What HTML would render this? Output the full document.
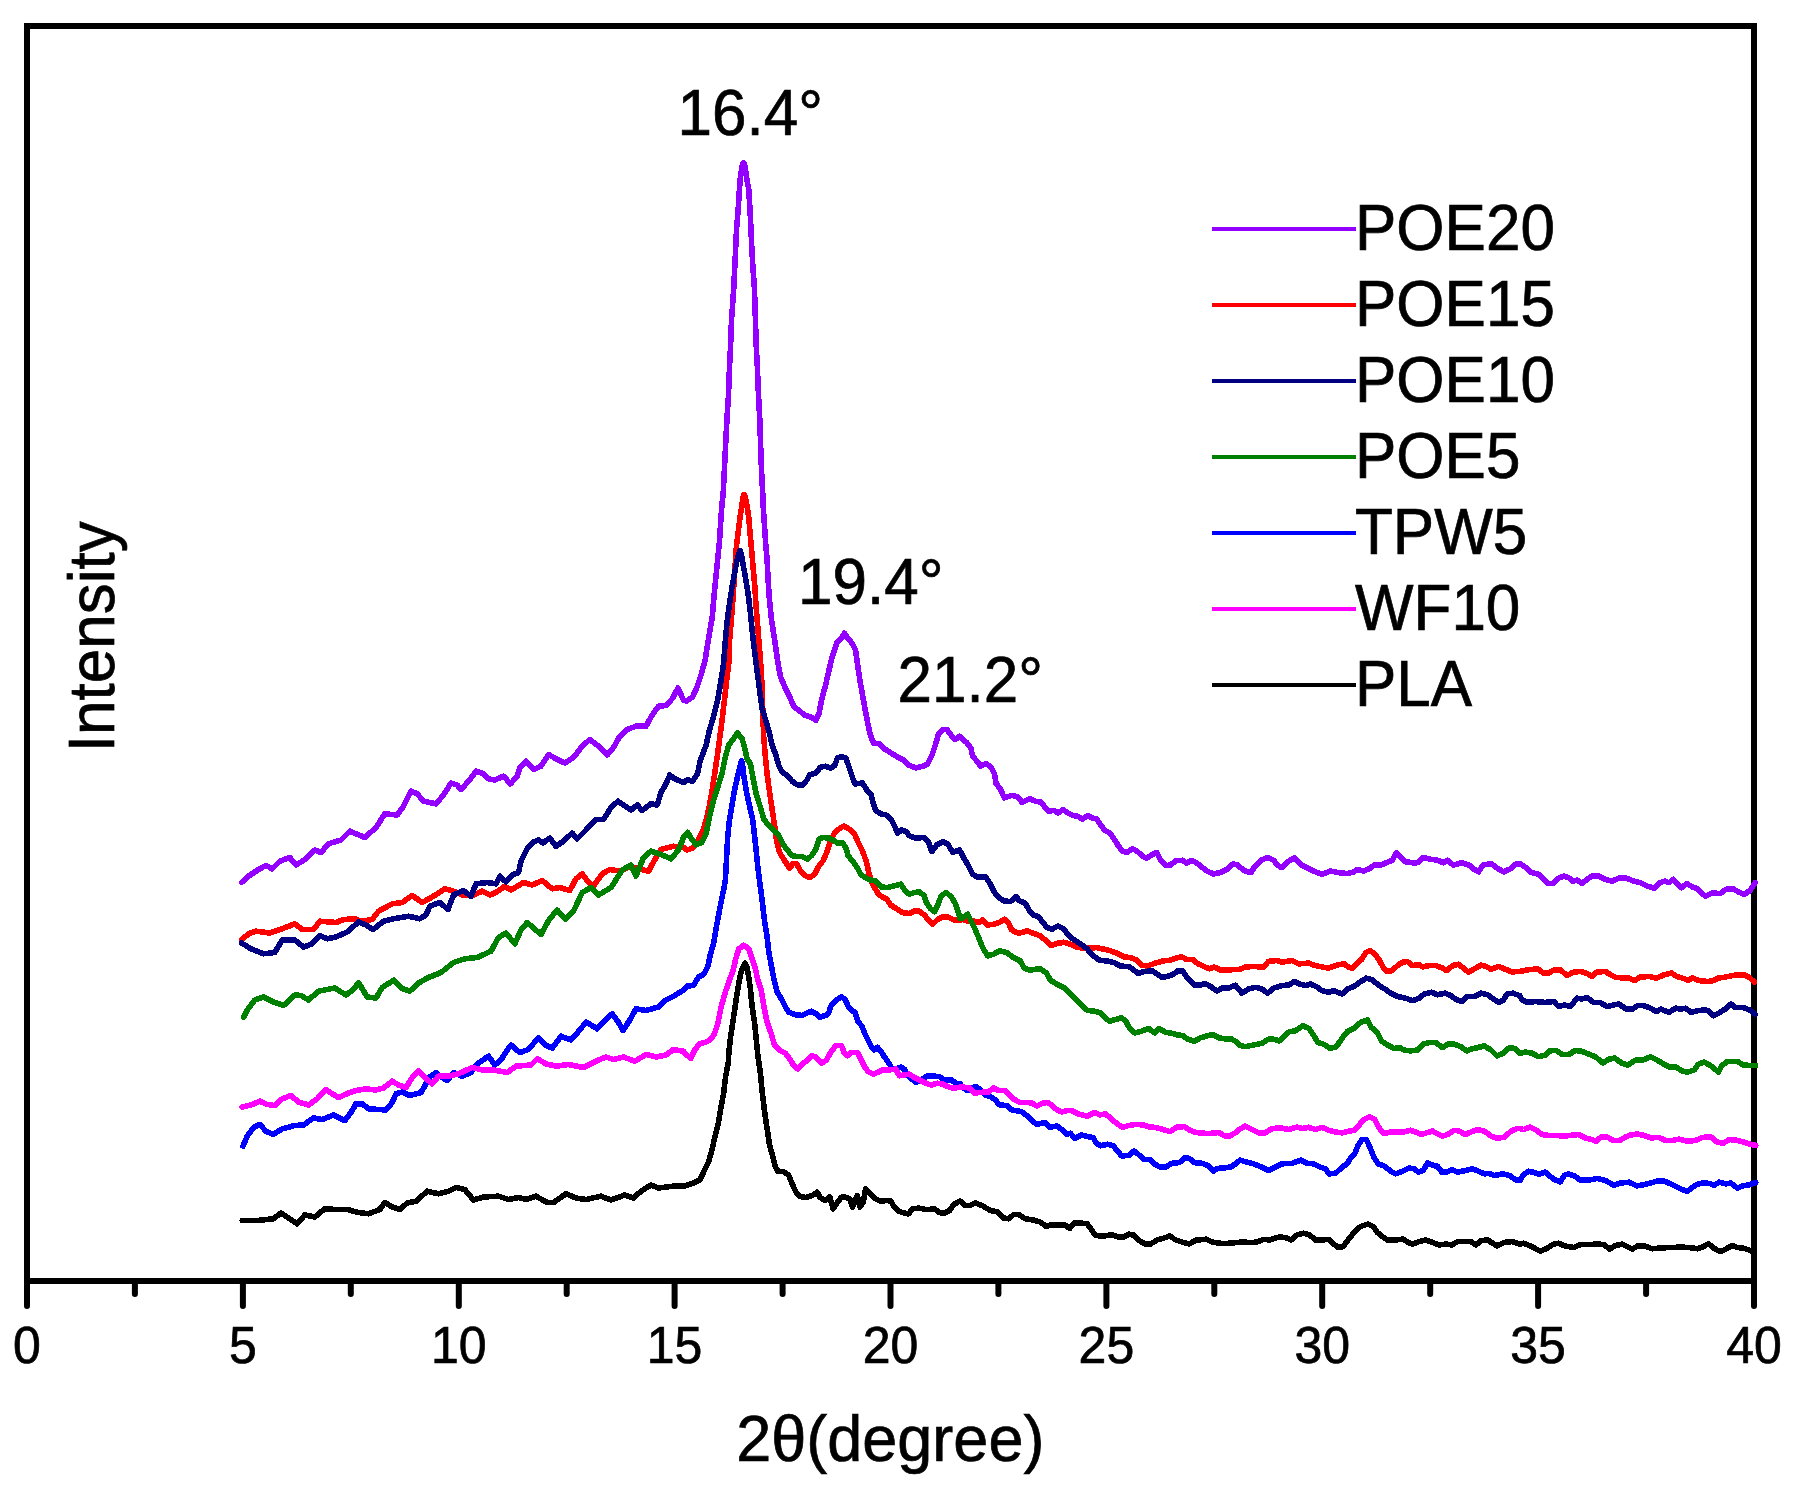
<!DOCTYPE html>
<html lang="en"><head><meta charset="utf-8"><title>XRD patterns</title>
<style>
html,body{margin:0;padding:0;background:#fff;}
body{width:1796px;height:1488px;overflow:hidden;}
svg{display:block;}
text{font-family:"Liberation Sans",sans-serif;fill:#000;stroke:#000;stroke-width:0.7;}
.big{font-size:62px;}
.tick{font-size:50px;text-anchor:middle;}
.c{fill:none;stroke-width:5.6;stroke-linejoin:round;stroke-linecap:round;shape-rendering:crispEdges;}
.ax{stroke:#000;stroke-width:6;fill:none;}
</style></head><body>
<svg width="1796" height="1488" viewBox="0 0 1796 1488">
<rect width="1796" height="1488" fill="#fff"/>
<g class="ax" stroke-linecap="butt">
<path d="M27 1284 V26 M24 26 H1757 M1754 26 V1284 M24 1281 H1757"/>
<path stroke-linecap="round" d="M27.0 1281 V1306 M242.9 1281 V1306 M458.8 1281 V1306 M674.6 1281 V1306 M890.5 1281 V1306 M1106.4 1281 V1306 M1322.2 1281 V1306 M1538.1 1281 V1306 M1754.0 1281 V1306"/>
<path stroke-linecap="round" d="M134.9 1281 V1294 M350.8 1281 V1294 M566.7 1281 V1294 M782.6 1281 V1294 M998.4 1281 V1294 M1214.3 1281 V1294 M1430.2 1281 V1294 M1646.1 1281 V1294"/>
</g>
<g class="tick">
<text transform="translate(27.0 1363) scale(1 1.045)">0</text>
<text transform="translate(242.9 1363) scale(1 1.045)">5</text>
<text transform="translate(458.8 1363) scale(1 1.045)">10</text>
<text transform="translate(674.6 1363) scale(1 1.045)">15</text>
<text transform="translate(890.5 1363) scale(1 1.045)">20</text>
<text transform="translate(1106.4 1363) scale(1 1.045)">25</text>
<text transform="translate(1322.2 1363) scale(1 1.045)">30</text>
<text transform="translate(1538.1 1363) scale(1 1.045)">35</text>
<text transform="translate(1754.0 1363) scale(1 1.045)">40</text>
</g>
<g class="c">
<polyline stroke="#000000" points="242.2,1220.5 257.2,1220.5 273.5,1218.8 281,1213 289.8,1218.8 297.2,1223.8 304.8,1215 314.8,1217 324.8,1208.8 336,1209.5 347.2,1209.5 358.5,1212.5 368.5,1213.8 379.8,1209.5 384.8,1202.5 392.2,1207 399.8,1209.5 407.2,1203 416,1201.2 427.2,1191.2 438.5,1193.8 448.5,1191.2 456,1187.5 464.8,1189.5 473.5,1200 483.5,1197 498.5,1196.2 508.5,1199.5 518.5,1197.5 526,1199.5 536,1196.2 547.2,1202.5 553.5,1202.5 566,1193.8 576,1198 586,1199.5 601,1196.2 611,1200 624.8,1195 633.5,1198 641,1191.2 651,1185 658.5,1188 673.5,1186.2 683.5,1186.2 686.8,1185.2 693.5,1183 700.2,1179.6 704.3,1170.4 708.5,1162.1 711.9,1150.4 715.2,1135.3 718.6,1121.9 721.1,1106.8 723.6,1093.5 725.6,1076.7 727.8,1065 728.6,1060 728.6,1055.7 730.3,1039 732.8,1022.2 735.3,1005.5 737.8,988.8 740,977 742.2,968.3 745,963.2 747,967.3 748.7,977 750.4,988.8 752,1005.5 754.5,1022.2 756.2,1039 757.9,1055.7 760.4,1073.4 762.4,1093.5 764.6,1111.9 767.1,1128.6 769.6,1145.3 772.9,1157 775.4,1167.1 778,1171.3 783.8,1171.8 788.8,1175.4 792.2,1183.8 795.5,1191.3 799.7,1196.4 805.6,1197.5 812.3,1195.5 817.3,1192.2 819.8,1197.2 824.8,1200.5 829.8,1196.9 833.2,1208.9 837.4,1202.2 841.5,1197.2 845.7,1197.2 849.9,1198.9 852.4,1207.2 857.4,1195.5 859.9,1207.2 863.3,1202.2 865.5,1188.8 868.3,1192.2 871.7,1195.5 875.8,1198.9 880.9,1201.4 885.9,1200.5 890.9,1200.9 894.2,1207.2 899.3,1211.4 904.3,1213.1 908.5,1213.9 912.6,1208.9 919.3,1208.1 926,1209.7 934.4,1208.9 939.4,1212.6 944.4,1213.1 949.5,1210.6 953.6,1204.7 960,1200.9 965.1,1205.4 970.1,1205.4 975.1,1202.9 981.8,1205.4 990.2,1210.4 997.7,1212.1 1003.6,1218 1008.6,1218.8 1013.6,1214.6 1018.6,1214.6 1025.3,1218.8 1033.7,1220.1 1040.4,1222.1 1046.2,1226.3 1052.1,1224.7 1058.8,1224.7 1064.7,1224.7 1069.7,1228.5 1073.9,1223 1080.5,1223 1087.2,1223.8 1091.4,1229.7 1094.8,1234.7 1100.6,1236.4 1107.3,1235.5 1112.3,1234.7 1119,1237.2 1124,1236.9 1129.1,1234.2 1134.1,1235.2 1139.1,1240.5 1145,1243.9 1150.8,1243.9 1157.5,1239.7 1164.2,1238 1170.1,1235.9 1175.1,1239.7 1182.6,1242.2 1189.3,1243.9 1196,1240.2 1206,1239.2 1212.7,1242.2 1222.8,1243.6 1231.1,1243.1 1240,1242.2 1241.8,1241.6 1250.1,1242.7 1256.8,1242.1 1263.5,1239.4 1270.2,1239.9 1278.6,1237.1 1285.3,1237.4 1291.1,1239.9 1297,1234.9 1303.7,1233.2 1309.5,1234.9 1315.4,1239.9 1322.1,1239.9 1328.8,1239.4 1333.8,1244.1 1338,1247.4 1343,1246.6 1348.8,1239.1 1353.9,1232.4 1360.5,1226.5 1368.1,1224 1373.1,1226.5 1377.3,1232.4 1382.3,1236.6 1387.3,1239.9 1395.7,1239.9 1403.2,1239.1 1408.2,1242.4 1412.4,1244.1 1419.1,1241.6 1425.8,1239.9 1432.5,1242.4 1439.2,1244.9 1445.9,1244.1 1451.7,1244.9 1457.6,1241.6 1464.3,1241.6 1471,1241.6 1476,1244.9 1481,1240.7 1487.7,1239.9 1492.7,1243.3 1496.9,1245.8 1504.4,1242.4 1512,1241.6 1520,1244.1 1523.5,1243.3 1531.8,1246.6 1540.2,1251.2 1546.9,1248.3 1553.6,1244.1 1558.6,1243.3 1565.3,1246.1 1573.7,1247.5 1580.4,1244.5 1588.7,1244.5 1597.1,1244.1 1603.8,1244.5 1609.6,1249.1 1615.5,1245.5 1622.2,1244.1 1627.2,1246.6 1632.2,1249.1 1638.1,1245.8 1643.9,1245.8 1652.3,1248.8 1662.3,1247.8 1672.4,1247.5 1680.7,1247.1 1689.1,1247.5 1697.5,1248.8 1703.3,1246.6 1708.3,1243.8 1714.2,1248.3 1720.1,1251.7 1725.9,1249.1 1731.8,1245.5 1737.6,1247.5 1744.3,1248.3 1751,1250.8"/>
<polyline stroke="#FF0000" points="241.5,940 248.5,933.8 256,931.2 269.8,933 282.2,928.8 294.8,923.8 302.2,929.5 313.5,929.5 319.8,921.2 336,922.5 343.5,919.5 354.8,918.8 361,921.2 372.2,919.5 378.5,911.2 392.2,903.8 402.2,902.5 412.2,895.5 422.2,902.5 433.5,896.2 444.8,888.8 453.5,891.2 462.2,895 473.5,895 482.2,891.2 489.8,895 496,892.5 504.8,886.2 511,890 523.5,882.5 532.2,885 542.2,880.5 552.2,888.8 559.8,887.5 569.8,890.5 576,878.8 582.2,873.8 588.5,882.5 593.5,886.2 602.2,873.8 609.8,869.5 621,871.2 629.8,866.2 638.5,868.8 648.5,871.2 656,857.5 661,849.5 673.5,846.2 683.5,847.5 686.8,849.9 692.6,848.3 697.6,840.7 702.7,831.5 706,820.7 709.4,805.6 711.9,792.2 714.4,775.5 716.9,758.8 719.4,740.4 721.9,721.9 724.4,700.2 726.9,678.4 729.4,658.4 729.4,642.5 731,623.8 732.5,605 733.8,586.2 735,567.5 736.2,548.8 738.1,532.5 740,517.5 741.9,505 743,497.5 744,494.4 745.4,497.5 746.9,505 748.8,517.5 750,532.5 751.5,548.8 753.1,567.5 754.8,586.2 756,605 757.5,623.8 759,642.5 761.2,670.1 762.4,691.8 762.9,716.9 763.7,737 765.4,757.1 767.1,773.8 769.6,792.2 772.1,809 774.6,825.7 776.3,839.1 779.6,852.5 784.7,860.8 789.7,868.3 793,863.3 796.4,863.3 800.5,870.9 805.6,875.9 809.7,877.6 814.8,874.2 819,865.8 823.1,860.8 827.3,850.8 830.7,840.7 834.8,832.4 839.9,828.2 844,826 849.1,829 854.1,833.2 858.3,842.4 862.5,850.8 866.6,862.5 869.1,874.2 873.3,885.9 879.2,895.1 886.7,899.2 890.9,905.1 895.9,908.4 902.6,912.6 909.3,913.5 914.3,911 919.3,911 924.4,915.1 929.4,921 932.7,924.3 937.7,919.3 942.8,916.8 947.8,916.8 954.5,920.2 960,920.2 961.8,919.2 966.8,920.9 973.5,920.9 978.5,922.5 982.7,920 987.7,925 993.5,924.2 999.4,922.5 1004.4,919.2 1008.6,923.4 1011.9,930.1 1018.6,933.4 1027,930.9 1033.7,933.4 1040.4,935.9 1046.2,940.9 1051.3,945.6 1057.1,943.4 1063.8,942.3 1070.5,944.3 1077.2,947.3 1083.9,948.1 1090.6,948.1 1096.4,947.6 1104,949.2 1110.7,950.9 1117.4,953.4 1124,956.8 1130.7,957.6 1136.6,960.1 1141.6,965.1 1147.5,966 1154.2,963.5 1162.5,961 1170.9,960.1 1177.6,957.6 1181.8,956.8 1186,959.3 1192.6,959.3 1197.7,963.5 1204.4,966.8 1209.4,968.8 1214.4,967.1 1221.1,970.2 1227.8,970.2 1234.5,969.3 1240,969.3 1245.1,967.2 1253.5,966.4 1263.5,967.2 1268.5,961.4 1276.9,960.5 1281.9,962.2 1291.9,960.5 1298.6,963.9 1308.7,963.1 1315.4,965.6 1322.1,966.9 1327.9,968.1 1335.4,965.6 1343.8,963.6 1348.8,967.2 1352.2,968.1 1356.4,963.9 1361.4,959.7 1365.6,953 1369.7,950.5 1373.9,953 1379,959.7 1383.1,967.2 1387.3,971.4 1392.3,970.6 1397.4,965.6 1402.4,962.2 1407.4,961.4 1412.4,965.6 1419.1,964.7 1422.5,966.9 1429.1,965.6 1435.8,965.6 1442.5,968.1 1446.7,970.6 1452.6,965.6 1458.4,964.2 1463.4,968.1 1468.5,972.3 1474.3,968.9 1481,965.2 1486,966.4 1491.1,969.2 1498.6,966.4 1504.4,968.9 1512,971.9 1520,971.4 1528.5,969.7 1537.7,968.9 1543.5,973.1 1548.6,973.1 1554.4,969.7 1560.3,969.7 1567,975.6 1572.8,972.3 1580.4,971.4 1586.2,973.1 1592.1,976.4 1596.2,972.3 1605.4,971.4 1610.5,974.8 1615.5,977.3 1623.9,978.1 1628.9,978.1 1634.7,980.6 1639.7,977.3 1649,976.4 1656.5,978.1 1664,974.8 1671.5,973.1 1676.6,976.4 1682.4,978.1 1688.3,980.3 1692.5,978.1 1699.1,980.6 1707.5,981.5 1713.4,980.6 1718.4,978.1 1724.2,977.3 1730.9,975.9 1737.6,974.8 1744.3,974.8 1749.3,977.3 1754.4,982.3"/>
<polyline stroke="#0000FF" points="243,1146.2 247.2,1136.2 253.5,1127.5 259.8,1124.5 266,1131.2 273,1134.5 282.2,1128.8 294.8,1125.5 303.5,1125 313.5,1118 322.2,1119.5 333.5,1115 344.8,1120.5 351,1112.5 356,1103.8 362.2,1103.8 368.5,1108.8 378.5,1109.5 386,1110 392.2,1102.5 396,1093.8 402.2,1092 409.8,1095.5 421,1092.5 426,1083.8 429.8,1077 436,1072.5 442.2,1077.5 447.2,1080.5 453.5,1072.5 462.2,1076.2 471,1072.5 477.2,1063.8 488.5,1056.2 494.8,1065 501,1060 507.2,1050 511,1045 519.8,1052.5 528.5,1049.5 538.5,1037.5 546,1045.5 552.2,1048 561,1036.2 571,1040 579.8,1030 586,1022 597.2,1028.8 606,1019.5 612.2,1013.8 618.5,1022.5 623,1030.5 629.8,1020 636,1008.8 646,1010.5 658.5,1007 664.8,1000.5 674.8,995.5 683.5,990 686.8,986.2 693.5,985.4 698.5,977 703.5,974.5 707.7,967 710.2,955.3 713.5,943.6 716.1,928.5 718.6,915.1 721.1,901.8 723.6,890 725.3,880 726.1,867.5 726.9,850.8 727.8,835.7 729.4,820.7 731.9,805.6 734.5,790.5 737.8,775.5 740,766.3 741.5,760.6 742.8,766.3 743.7,775.5 746.2,790.5 749.5,805.6 752.9,820.7 754.5,835.7 756.2,850.8 757.9,867.5 761.2,893.4 762.9,906.8 764.6,921.8 767.1,936.9 768.8,951.9 771.3,965.3 773.8,978.7 777.1,992.1 781.3,998.8 785.5,1007.2 788.8,1012.2 795.5,1014.7 802.2,1015.5 807.2,1013 811.4,1011.3 816.4,1013.9 819.8,1017.2 825.6,1015.5 829,1012.2 830.7,1006.3 834.8,1002.1 838.2,998.8 841.5,997.1 844.9,999.1 848.2,1006.3 851.6,1010.5 854.9,1012.2 858.3,1022.2 861.6,1025.6 865,1033.9 868.3,1040.6 871.7,1047.3 874.2,1049.8 877.5,1047.3 880.9,1051.5 884.2,1056.5 888.4,1062.4 891.7,1068.2 895.9,1069.1 900.9,1067.1 905.1,1069.9 907.6,1075.8 911,1078.3 916,1082.5 921,1079.9 927.7,1075.8 933.6,1076.1 939.4,1076.6 944.4,1079.9 951.1,1079.9 956.2,1083.3 960,1083.3 961.8,1087.3 967.6,1090.6 971,1088.1 976,1086.4 980.2,1089.8 985.2,1094.8 990.2,1096.5 995.2,1099.8 999.4,1104.8 1006.9,1105.7 1011.9,1109.9 1021.1,1111.5 1027,1115.7 1032,1120.7 1037,1124.4 1045.4,1122.4 1049.6,1127.1 1057.1,1126.1 1062.1,1129.9 1066.3,1134.1 1070.5,1133.3 1074.7,1138.3 1081.4,1135 1087.2,1136.6 1093.1,1137.5 1096.4,1143.3 1100.6,1145.8 1107.3,1144.2 1113.2,1145.8 1117.4,1150.9 1121.5,1155.9 1129.1,1155.5 1134.1,1150.9 1139.1,1155 1143.3,1159.2 1150,1159.6 1155,1164.2 1159.2,1166.8 1165.9,1166.8 1171.7,1163.4 1179.3,1162.6 1185.1,1157.6 1189.3,1158.4 1194.3,1162.6 1202.7,1163.4 1208.5,1165.9 1213.6,1170.9 1217.7,1168.4 1224.4,1167.9 1231.1,1166.8 1236.2,1163.4 1240,1160.1 1246.8,1162.1 1253.5,1163.8 1261.8,1167.1 1268.5,1170.5 1275.2,1167.1 1281.9,1163.8 1291.9,1163.4 1301.1,1160.1 1307,1163.4 1313.7,1163.8 1320.4,1167.1 1325.4,1168.8 1328.8,1173.8 1335.4,1173.5 1342.1,1167.1 1347.2,1163.8 1350.5,1157.9 1354.7,1153.7 1358,1145.4 1362.2,1139.5 1366.4,1139.5 1369.7,1147 1373.9,1157.1 1378.1,1163.8 1384.8,1166.3 1390.7,1171.3 1395.7,1173.8 1402.4,1171.3 1409.1,1168 1414.1,1168.8 1418.3,1172.1 1423.3,1170.5 1427.5,1162.9 1433.3,1165.4 1437.5,1166.3 1441.7,1172.1 1446.7,1172.1 1451.7,1169.6 1457.6,1172.1 1464.3,1170.8 1472.6,1168.8 1478.5,1171.3 1484.4,1173.8 1489.4,1173.5 1494.4,1175.5 1502.8,1173.8 1509.5,1175.5 1515.3,1179.7 1520,1180.5 1523.5,1174.7 1528.5,1171.3 1533.5,1172.2 1538.5,1174.2 1545.2,1172.2 1550.2,1176.4 1554.4,1179.7 1560.3,1181.9 1564.5,1175.2 1568.6,1173.9 1575.3,1176.4 1580.4,1180.2 1588.7,1180.2 1597.1,1178.5 1605.4,1180.5 1613.8,1185.2 1620.5,1183.1 1628.9,1182.2 1637.2,1185.9 1643.9,1184.7 1650.6,1183.1 1657.3,1180.9 1664,1180.9 1670.7,1183.9 1677.4,1187.2 1682.4,1189.7 1687.4,1191.4 1692.5,1187.2 1697.5,1184.2 1704.2,1182.6 1710.9,1183.9 1714.2,1185.2 1719.2,1182.2 1725.9,1183.9 1730.9,1183.1 1737.6,1188.1 1742.6,1185.9 1749.3,1184.7 1755.7,1182.6"/>
<polyline stroke="#FF00FF" points="242.2,1107 251,1105 259.8,1101.2 267.2,1104.5 274.8,1105.5 282.2,1098.8 291,1095.5 298.5,1102 308.5,1105 317.2,1098.8 326,1089.5 332.2,1093.8 338.5,1097.5 348.5,1093 356,1090.5 366,1088.8 376,1090 383.5,1088 392.2,1081.2 398.5,1085 406,1087.5 412.2,1077.5 418.5,1071.2 424.8,1077.5 432.2,1083.8 438.5,1076.2 448.5,1076.2 458.5,1073.8 472.2,1067.5 482.2,1070 493.5,1070 507.2,1072.5 516,1066.2 531,1065 537.2,1058.8 546,1063.8 556,1066.2 568.5,1064.5 583.5,1067.5 598.5,1060 606,1057 613.5,1059.5 623.5,1057 634.8,1061.2 646,1054.5 656,1057 666,1055 673.5,1049.5 683.5,1051.2 685.1,1054 691,1058.2 694.3,1050.7 699.3,1044 705.2,1042.3 710.2,1039.8 714.4,1033.9 717.7,1023.9 721.1,1007.2 725.3,992.1 729.4,980.4 733.1,970.4 735.8,958.6 739,948.6 743.7,945.3 748.7,948.6 752,958.6 755.4,968.7 757.9,980.4 761.2,990.4 763.7,1005.5 767.1,1022.2 771.3,1033.9 774.6,1045.6 780.5,1050.7 785.5,1053.2 789.7,1059 793.9,1065.7 798,1069.1 802.2,1064 807.2,1060.7 811.4,1055.7 816.4,1057.4 821.5,1063.2 826.5,1059.9 830.7,1052.3 835.7,1045.6 841.5,1045.6 844,1052.3 847.4,1055.7 851.6,1052.3 857.4,1052.3 860.8,1059 865,1067.4 868.3,1071.6 873.3,1074.1 877.5,1072.4 882.5,1069.9 889.2,1069.9 895.9,1069.1 899.3,1075.8 904.3,1074.9 909.3,1074.1 914.3,1077.4 921,1080.8 926,1083.3 931.1,1085 937.7,1083.3 942.8,1084.1 947.8,1086.6 952.8,1088.3 960,1087.1 965.1,1087.3 970.1,1088.1 974.3,1093.1 981.8,1092.3 988.5,1092 993.5,1088.1 998.6,1090.6 1004.4,1090.3 1008.6,1094 1013.6,1099 1019.5,1102.3 1027,1102.3 1032,1103.2 1037,1106 1042.9,1103.2 1047.9,1102.3 1052.1,1105.7 1057.1,1109.9 1062.1,1112 1067.2,1110.4 1072.2,1110.7 1078,1114 1087.2,1116.1 1094.8,1112.4 1099.8,1114.9 1105.6,1114 1110.7,1118.2 1116.5,1123.3 1122.4,1127.4 1129.1,1125.4 1135.8,1124.4 1143.3,1124.9 1149.1,1127.1 1155.8,1127.4 1164.2,1129.9 1170.1,1131.6 1176.8,1127.1 1184.3,1126.6 1189.3,1129.9 1196,1132.5 1204.4,1133.3 1211.1,1133.3 1218.6,1132.5 1224.4,1135.8 1229.5,1136.1 1234.5,1133.3 1240,1129.1 1245.1,1126.1 1251.8,1129.5 1258.5,1132.8 1265.2,1132.8 1271.9,1128.6 1280.2,1127.8 1288.6,1129.5 1297,1127 1302,1128.6 1308.7,1127.3 1315.4,1129.5 1322.1,1127.3 1328.8,1130.3 1335.4,1132 1342.1,1132.8 1348.8,1131.1 1353.9,1130.3 1358.9,1125.3 1363.9,1119.4 1369.7,1116.9 1374.8,1119.4 1379,1127.8 1384,1133.7 1390.7,1132 1397.4,1132 1404,1132 1410.7,1130.3 1415.8,1132 1421.6,1134.5 1426.6,1132.8 1432.5,1131.1 1437.5,1133.7 1442.5,1136.2 1447.6,1134.5 1454.2,1130.3 1459.3,1131.1 1465.1,1134.5 1471,1132 1477.7,1129.5 1484.4,1131.1 1491.1,1136.2 1497.7,1138.3 1504.4,1137 1511.1,1131.1 1517,1128.6 1520,1128.6 1523.5,1129.5 1530.2,1127 1535.2,1129.5 1541.9,1134.5 1548.6,1135.4 1556.9,1135.4 1563.6,1136.2 1570.3,1135.4 1578.7,1134.5 1585.4,1137.9 1592.1,1139.6 1596.2,1141.2 1601.3,1137 1607.1,1137 1613,1140.4 1619.7,1140.4 1625.5,1137 1630.5,1135 1637.2,1134 1643.9,1135.4 1650.6,1137.9 1659,1137.4 1665.7,1140.7 1672.4,1140.4 1679.1,1139.1 1687.4,1141.2 1695.8,1140.4 1702.5,1137.4 1710.9,1137 1716.7,1141.7 1722.6,1143.4 1729.3,1139.6 1736,1140.1 1742.6,1141.7 1749.3,1144.1 1755.7,1145.4"/>
<polyline stroke="#008000" points="243.5,1017.5 247.2,1010 254.8,1000 263.5,997 273.5,1002 283.5,1005.5 294.8,995 301,995.5 308.5,1000 318.5,991.2 334.8,988 346,995 353.5,989.5 358.5,982.5 367.2,997 376,998 382.2,987.5 394,980 401,988 409.8,991.2 418.5,983 428.5,977.5 441,972.5 453.5,962.5 464.8,958.8 477.2,957.5 491,951.2 498.5,937.5 506,933 514.8,943.8 521,930 527.2,922.5 541,934.5 548.5,920.5 557.2,910 565.5,919.5 573.5,911.2 582.2,892.5 591,887.5 598.5,895 611,887.5 622.2,870 631,865 636,876.2 643.5,857.5 651,851.2 661,854.5 671,858.8 678.5,850 683.5,837.5 687.6,832.4 691.8,839.1 696,844.9 701.8,842.4 706,834 709.4,817.3 713.5,800.6 717.7,787.2 721.9,773.8 725.3,757.1 728.6,745.4 733.6,738.7 737.3,732.8 742,738.7 744.5,747 747,758.8 750.4,763.8 752.9,777.2 756.2,793.9 760.4,807.3 763.7,819 768.8,825.7 773.8,829.9 778.8,835.7 783,844.1 787.2,849.9 792.2,855.8 797.2,856.6 802.2,856.6 807.2,859.1 811.4,855.8 815.6,849.9 819,839.1 823.1,837.4 829,838.2 834,840.7 838.2,843.3 842.4,842.4 845.7,847.4 848.2,855.8 852.4,860.8 856.6,866.7 860.8,874.2 865,877.6 870,880.1 875.8,880.9 880.9,886.8 887.6,887.6 894.2,885.9 900.9,884.2 905.1,890.9 909.3,894.3 914.3,892.6 919.3,891.8 924.4,896 926,901.8 930.2,908.4 934.4,911.8 937.7,905.1 941.1,895.9 946.1,892.5 951.1,896.7 955.3,903.4 958.7,913.5 960,918.5 961.8,918.3 967.6,914.2 971,920.9 975.1,929.2 979.3,939.3 982.7,947.6 987.7,955.9 993.5,954.3 999.4,950.9 1006.9,952.6 1013.6,957.6 1020.3,961 1024.5,968.5 1030.4,970.2 1039.6,968.5 1046.2,972.7 1050.4,980.2 1057.1,984.4 1063.8,987.7 1070.5,993.6 1075.5,999.4 1081.4,1005.3 1087.2,1010.3 1093.9,1011.1 1100.6,1012.8 1104.8,1017.8 1109.8,1021.2 1115.7,1019.5 1121.5,1017.8 1125.7,1021.2 1129.9,1028.7 1134.9,1032.9 1141.6,1031.2 1148.3,1028.4 1155,1032.9 1159.2,1028.4 1165,1032.1 1172.6,1033.4 1177.6,1035.1 1182.6,1035.4 1187.6,1039.1 1194.3,1041.3 1200.2,1037.9 1206,1036.2 1212.7,1034.6 1219.4,1037.9 1226.1,1039.1 1231.1,1038.8 1236.2,1041.8 1240,1045.4 1245.1,1046.7 1253.5,1045 1261.8,1043.4 1268.5,1039.2 1273.5,1039.2 1279.4,1040.9 1285.3,1035 1289.4,1031.7 1295.3,1030.8 1302.8,1025.8 1308.7,1028.3 1312.9,1034.2 1317.9,1042.5 1323.7,1044.2 1330.4,1048.4 1336.3,1046.7 1342.1,1038.3 1347.2,1031.7 1353.9,1028.3 1360.5,1022.5 1367.2,1019.9 1371.4,1027.5 1377.3,1032.5 1381.5,1040.9 1387.3,1045 1394,1048.4 1399.9,1047.6 1404,1050.1 1410.7,1050.9 1417.4,1050.1 1423.3,1044.2 1429.1,1042.5 1435.8,1042.5 1442.5,1047.6 1447.6,1044.2 1454.2,1044.2 1460.9,1046.7 1466.8,1050.9 1471,1049.2 1477.7,1047.6 1484.4,1045.9 1491.1,1050.1 1496.9,1055.9 1502.8,1053.4 1509.5,1047.6 1514.5,1048.4 1520,1053.4 1525.1,1052 1531.8,1053.1 1538.5,1056.7 1545.2,1055.1 1549.4,1050.9 1556.1,1050.4 1561.9,1054.2 1568.6,1054.7 1575.3,1050.4 1582,1051.4 1588.7,1054.2 1595.4,1056.7 1602.9,1063.1 1608.8,1059.2 1614.7,1058.1 1622.2,1063.4 1628,1065.1 1635.6,1060.1 1643.9,1059.7 1650.6,1056.7 1657.3,1060.1 1664,1064.3 1669,1066.8 1675.7,1067.1 1682.4,1071 1687.4,1072.1 1694.1,1070.1 1698.3,1064.3 1704.2,1062.1 1709.2,1064.8 1714.2,1068.4 1718.4,1072.1 1721.7,1065.9 1726.8,1061.8 1732.6,1061.4 1738.5,1061.8 1742.6,1064.8 1749.3,1065.4 1755.7,1065.4"/>
<polyline stroke="#000080" points="241.5,943 251,948.8 263.5,953.8 274.8,952.5 282.2,940 294.8,940 303.5,947 312.2,943.8 319.8,935.5 327.2,938.8 336,937 347.2,932 358.5,922 366,925 373,929.5 383.5,921.2 393.5,918.8 408.5,916.2 419.8,918.8 426,915 429.8,906.2 439.8,902.5 448,909.5 453.5,895 463.5,890.5 471,896.2 476,883.8 487.2,882.5 496,883.8 499.8,876.2 506,882 512.2,875 518.5,872.5 521,861.2 527.2,848.8 533.5,842 538.5,840 543,843 549.8,838 556,846.2 563.5,841.2 572.2,833 577.2,838.8 586,830 596,819.5 603.5,819.5 611,807.5 618,801.2 623.5,805 631,810 637.2,805 642.2,810.5 651,803.8 657.2,805 661,792.5 666,783.8 669.8,775 674.8,778.8 683.5,782.5 687.6,779.7 692.6,781.3 697.6,773.8 700.2,760.4 703.5,752.1 706,745.4 709.4,730.3 713.5,716.9 717.7,700.2 721.1,680.1 723.6,663.4 725.2,642.5 726.9,623.8 728.5,611.2 730.2,598.8 732.2,586.2 734.4,573.8 736.9,561.2 738.8,553.8 740,550.6 741.2,553.8 742.5,561.2 744.8,573.8 746.9,586.2 748.8,598.8 750.2,611.2 751.5,623.8 753.5,642.5 757,670.1 759.6,690.2 762.1,708.6 766.2,721.9 769.6,733.7 772.1,745.4 775.4,753.7 778.8,765.4 782.1,772.1 787.2,775.5 792.2,781.3 797.2,784.7 802.2,785.5 807.2,779.7 809.7,774.7 815.6,773 820.6,767.1 825.6,766.3 830.7,768 834.8,765.4 837.4,757.9 841.5,756.7 845.7,757.9 849.1,767.1 852.4,777.2 854.9,783.9 862.5,783 866.6,789.7 870.8,793.9 873.3,803.9 875.8,810.6 880.9,814 885.9,814.8 890.9,819 895.1,827.4 897.6,833.2 901.8,829.9 906,831.5 909.3,835.7 916,838.2 923.5,837.4 928.5,842.4 931.9,851.6 936.9,844.9 942.8,841.6 947.8,844.1 952.8,852.5 959.5,849.9 964.3,859 968.4,865.6 972.6,874 977.6,877.4 985.2,876.5 989.4,882.4 993.5,890.7 997.7,896.6 1003.6,900.8 1010.3,901.6 1016.1,896.6 1019.5,900.8 1025.3,903.3 1029.5,910.8 1033.7,915 1038.7,916.7 1042.9,922.5 1047.1,927.6 1052.1,929.2 1058,925.9 1063,928.4 1067.2,933.4 1072.2,938.4 1077.2,941.8 1082.2,945.1 1087.2,949 1091.4,954.3 1099,960.1 1107.3,961 1114,962.6 1120.7,966 1129.1,966.8 1134.1,970.2 1138.3,973.5 1144.1,971.5 1152.5,971 1157.5,974.3 1162.5,977.7 1168.4,976 1173.4,974.3 1177.6,971 1182.6,971 1186,976 1190.1,981 1194.3,985.2 1200.2,985.2 1205.2,983.5 1211.1,986.9 1216.9,991.1 1222.8,987.7 1229.5,987.7 1235.3,985.2 1240,990.2 1241.8,993.2 1248.4,989 1256,987.3 1261.8,989 1267.7,993.2 1273.5,988.2 1281.9,985.6 1289.4,984.8 1294.5,981.5 1299.5,984 1305.3,985.6 1310.4,984 1316.2,986.5 1322.1,990.7 1328.8,992.3 1333.8,990.7 1342.1,994 1347.2,989 1353.9,986.5 1359.7,982.3 1366.4,978.1 1372.3,979.8 1378.1,984.8 1384.8,989 1390.7,993.2 1397.4,996.5 1405.7,998.2 1412.4,1000.7 1419.1,998.2 1424.1,994 1431.7,992.3 1437.5,994.8 1445,993.2 1450.9,995.7 1456.8,999.9 1462.6,1001.5 1466.8,996.5 1474.3,996.5 1481,993.2 1487.7,994.8 1493.6,999 1498.6,1002.4 1503.6,999.9 1506.9,994 1512.8,993.2 1520,995.7 1521.8,999.9 1527.6,1002.4 1535.2,1001.5 1545.2,1002.4 1553.6,1001.5 1558.6,1006.6 1564.5,1004.9 1570.3,1006.6 1577,998.2 1582,999 1587,997.4 1593.7,1002.4 1600.4,1002.7 1607.1,1006.6 1613.8,1004.9 1618.8,1004 1626.4,1009.1 1632.2,1009.1 1638.1,1005.4 1643.9,1005.7 1650.6,1008.2 1656.5,1011.6 1660.7,1009.1 1669,1012.4 1675.7,1008.2 1680.7,1009.1 1685.8,1008.2 1690.8,1012.4 1697.5,1010.7 1704.2,1009.9 1708.3,1010.7 1713.4,1015.8 1720.1,1012.4 1725.1,1009.1 1730.9,1004 1735.1,1007.4 1742.6,1007.4 1749.3,1009.9 1755.2,1014.1"/>
<polyline stroke="#9400FF" points="241.5,882.5 248.5,876.2 258.5,869.5 266,865.5 272.2,868.8 279.8,861.2 289.8,857.5 296,865 306,858.8 314.8,850 321,852.5 328.5,843.8 341,840 349.8,831.2 364.8,837.5 376,827.5 384.8,813.8 397.2,815 403.5,806.2 411,791.2 417.2,793.8 423.5,801.2 436,803.8 443.5,795 451,783 457.2,785 461,789.5 468.5,781.2 476,771.2 483.5,773.8 488.5,778.8 494.8,780 503.5,776.2 510.5,783.8 517.2,776.2 519.8,767.5 526,761.2 533.5,769.5 541,766.2 548.5,754.5 556,758.8 564.8,763 573.5,757.5 582.2,746.2 589.8,739.5 598.5,746.2 607.2,755 613.5,747.5 619.8,736.2 627.2,729.5 636,726.2 646,726.2 652.2,715 658.5,706.2 666,705.5 672.2,698.8 678,688 683.5,700 686.8,701 692.6,696.8 696.8,687.6 701,675.1 705.2,660 707.5,645 710,630 712.2,617.5 713.8,598.8 715.6,580 717.5,561.2 719.4,542.5 720.6,523.8 721.9,505 723.1,495 724.4,470 725.6,445 726.9,420 728.5,395 729.4,370 730.6,345 731.5,320 732.5,306.2 733.8,287.5 734.6,270 735.6,250 736.5,230 738.1,210 739.4,190 740.6,175 742.1,166.2 743.5,162.5 745,166.2 746.2,175 748.8,190 750,210 751,230 751.9,250 753.1,270 754.4,287.5 755,306.2 755.6,325 756.2,345 757.5,370 758.5,395 759.8,420 760.6,445 761.5,470 762.8,495 763.1,505 764.4,523.8 765.6,542.5 767.2,561.2 768.1,580 769.4,598.8 771.2,617.5 773.1,630 775,642.5 778,663.4 780.5,676.8 784.7,686.8 789.7,696.8 793.9,706.9 798.9,710.2 804.7,715.3 810.6,716.9 815.9,720.3 819,713.6 821.5,700.2 825.6,685.1 829,670.1 832.3,656.7 836.9,642.5 841.2,638.8 844.4,633.1 848.8,639.4 852.5,643.8 855.6,650 857.4,663.4 859.9,680.1 862.5,695.2 865,708.6 867.5,721.9 870,733.7 873.3,742.9 879.2,743.7 884.2,748.7 890.9,752.9 897.6,757.1 904.3,760.4 909.3,765.4 916,768 922.7,766.3 927.7,763.8 931.9,755.4 935.2,745.4 938.6,733.7 942.8,729.5 946.9,729.5 951.1,735.3 955.3,739.5 959.5,736.2 966.8,742.7 971,748.5 972.6,756.1 977.6,761.9 980.2,766.1 986,763.6 991,766.9 994.4,773.6 996.1,783.7 1000.2,788.7 1004.4,797.9 1011.9,795.4 1017.8,797 1022,802.4 1029.5,798.7 1035.4,801.2 1041.2,802.1 1046.2,808.8 1048.8,811.3 1053.8,810.4 1058,812.9 1063,809.6 1068,812.9 1073,815.4 1078,816.3 1082.2,819.1 1088.1,815.4 1092.3,818 1096.4,818.8 1100.6,824.7 1104.8,830.5 1109.8,833 1114,838.9 1118.2,845.6 1122.4,851.4 1127.4,852.3 1132.4,848.6 1137.4,851.4 1142.5,856.4 1146.6,858.1 1151.7,854.8 1156.7,852.6 1160.9,860.6 1165.9,865.6 1170.9,864.8 1175.9,860.6 1182.6,860.3 1186.8,863.1 1191,860.6 1196,862.3 1201.9,867.3 1207.7,871.5 1213.6,874 1221.1,872.3 1227.8,869 1232.8,864 1237,864.8 1240,867.3 1245.1,871 1251,872.7 1255.1,866 1261,860.2 1267.7,857.6 1273.5,860.2 1277.7,865.2 1281.9,867.7 1287.8,861.8 1294.5,857.6 1300.3,864.3 1307,867.7 1313.7,871 1322.1,874.4 1330.4,871 1338.8,872.7 1347.2,873.5 1353.9,871.9 1357.2,869.4 1363.9,871 1369.7,868.5 1373.9,865.2 1380.6,865.2 1386.5,862.7 1392.3,860.2 1396.5,852.6 1400.7,856.8 1405.7,861.8 1412.4,862.7 1417.4,862.7 1423.3,857.6 1430.8,859.3 1437.5,860.2 1443.4,862.7 1447.6,860.2 1453.4,865.2 1461.8,862.7 1469.3,865.2 1474.3,869.4 1478.5,871.9 1482.7,865.2 1491.1,863.5 1497.7,868.5 1503.6,871.9 1511.1,868.5 1515.3,864.3 1520,863.5 1526,867.7 1530.2,871.9 1538.5,874.4 1543.5,878.6 1547.7,883.6 1552.7,883.6 1557.8,878.6 1563.6,876.1 1568.6,877.7 1572.8,881.1 1577,880.2 1582,883.2 1587,879.4 1592.1,876.1 1598.8,876.1 1605.4,879.4 1612.1,881.1 1618.8,878.2 1625.5,877.7 1632.2,880.6 1640.6,882.7 1647.3,886.1 1654.8,888.3 1659.8,882.7 1664.8,881.1 1669,882.7 1673.2,879.4 1677.4,884.4 1681.6,887.8 1686.6,883.6 1692.5,886.9 1697.5,888.6 1701.7,893.6 1705.8,896.1 1712.5,892.8 1720.1,893.6 1725.9,889.4 1732.6,888.6 1738.5,891.9 1744.3,894.5 1750.2,890.3 1755.2,882.7"/>
</g>
<g class="big">
<line x1="1212" y1="229.0" x2="1356" y2="229.0" stroke="#9400FF" stroke-width="4"/>
<text transform="translate(1355 249.7) scale(1 1.045)">POE20</text>
<line x1="1212" y1="305.0" x2="1356" y2="305.0" stroke="#FF0000" stroke-width="4"/>
<text transform="translate(1355 325.7) scale(1 1.045)">POE15</text>
<line x1="1212" y1="381.0" x2="1356" y2="381.0" stroke="#000080" stroke-width="4"/>
<text transform="translate(1355 401.7) scale(1 1.045)">POE10</text>
<line x1="1212" y1="457.0" x2="1356" y2="457.0" stroke="#008000" stroke-width="4"/>
<text transform="translate(1355 477.7) scale(1 1.045)">POE5</text>
<line x1="1212" y1="533.0" x2="1356" y2="533.0" stroke="#0000FF" stroke-width="4"/>
<text transform="translate(1355 553.7) scale(1 1.045)">TPW5</text>
<line x1="1212" y1="609.0" x2="1356" y2="609.0" stroke="#FF00FF" stroke-width="4"/>
<text transform="translate(1355 629.7) scale(1 1.045)">WF10</text>
<line x1="1212" y1="685.0" x2="1356" y2="685.0" stroke="#000000" stroke-width="4"/>
<text transform="translate(1355 705.7) scale(1 1.045)">PLA</text>
<text transform="translate(677.5 135) scale(1 1.045)">16.4°</text>
<text transform="translate(798 604) scale(1 1.045)">19.4°</text>
<text transform="translate(897.5 702) scale(1 1.045)">21.2°</text>
<text transform="translate(890.3 1461) scale(1 1.02)" text-anchor="middle" style="font-size:63px">2θ(degree)</text>
<text transform="translate(114 636.8) rotate(-90) scale(1 1.045)" text-anchor="middle">Intensity</text>
</g>
</svg>
</body></html>
